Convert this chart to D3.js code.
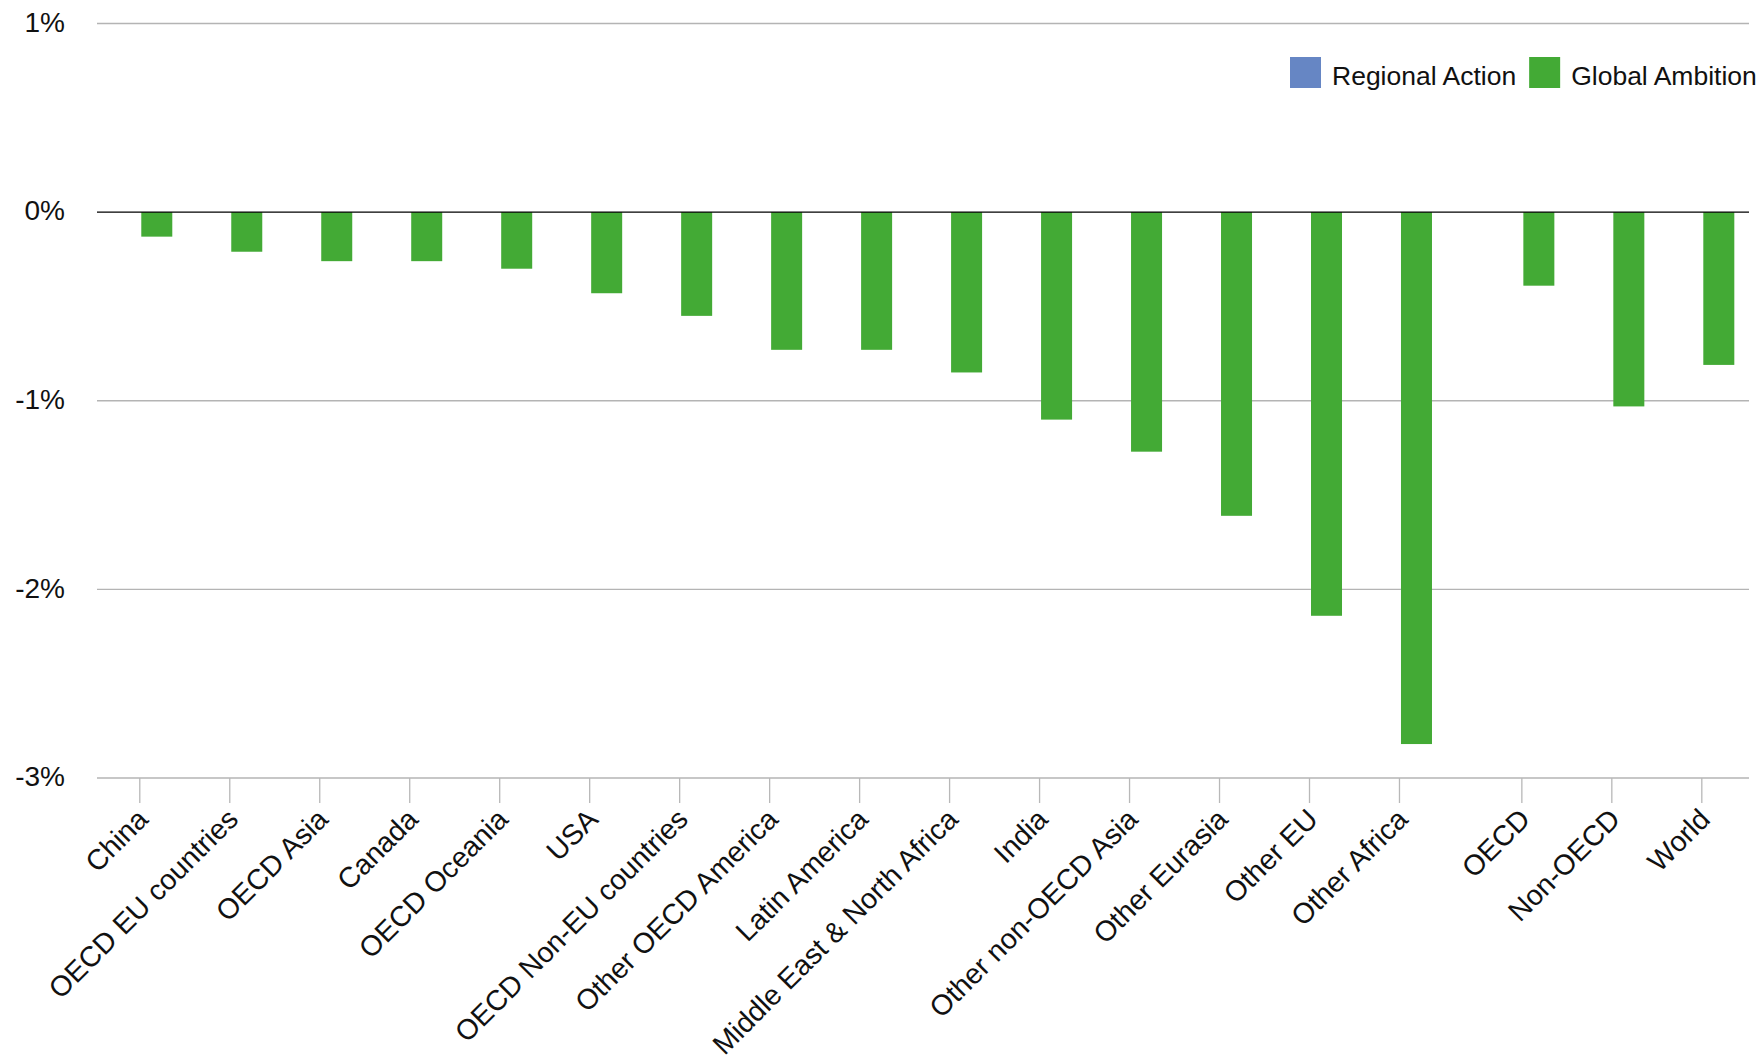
<!DOCTYPE html>
<head>
  <meta charset="utf-8">
  <script src="https://d3js.org/d3.v7.min.js"></script>
  <style>
    body { margin: 0; background: #fff; }
    svg { font-family: "Liberation Sans", Arial, sans-serif; }
    .grid line { stroke: #b4b4b4; stroke-width: 1.3; }
    .zero { stroke: #000; stroke-width: 1.4; }
    .x .tick line { stroke: #b8b8b8; stroke-width: 1.3; }
    .x path, .y path, .y line { display: none; }
    .y text { fill: #111; font-size: 28px; }
    .x text { fill: #111; font-size: 28.5px; }
    .legend text { fill: #111; font-size: 26.5px; }
  </style>
</head>
<body>
<script>

  var categories = ["China", "OECD EU countries", "OECD Asia", "Canada", "OECD Oceania", "USA",
    "OECD Non-EU countries", "Other OECD America", "Latin America", "Middle East & North Africa",
    "India", "Other non-OECD Asia", "Other Eurasia", "Other EU", "Other Africa",
    "OECD", "Non-OECD", "World"];
  var aggregates = ["OECD", "Non-OECD", "World"];

  var seriesNames = ["Regional Action", "Global Ambition"];
  var seriesColors = ["#6686c4", "#43aa35"];

  // no Regional Action bars are shown
  var regionalAction = [null, null, null, null, null, null, null, null, null,
    null, null, null, null, null, null, null, null, null];
  var globalAmbition = [-0.13, -0.21, -0.26, -0.26, -0.30, -0.43, -0.55, -0.73, -0.73,
    -0.85, -1.10, -1.27, -1.61, -2.14, -2.82, -0.39, -1.03, -0.81];

  var yTicks = [1, 0, -1, -2, -3];

  var width = 1764, height = 1061;
  var margin = { left: 97, right: 1749, top: 23.5, bottom: 778 };
  var groupGap = 0.36;

  var svg = d3.select("body").append("svg")
      .attr("width", width)
      .attr("height", height);

  // slot position of each category, the aggregate group sits a bit apart
  var slots = categories.map(function(c, i) {
    return i + (aggregates.indexOf(c) >= 0 ? groupGap : 0);
  });
  var slotScale = d3.scaleLinear()
      .domain([-0.47, d3.max(slots) + 0.53])
      .range([margin.left, margin.right]);

  var x = d3.scaleOrdinal()
      .domain(categories)
      .range(slots.map(function(s) { return slotScale(s); }));

  var inner = d3.scaleBand()
      .domain(seriesNames)
      .range([-33, 33])
      .paddingInner(0.114);

  var y = d3.scaleLinear()
      .domain([d3.min(yTicks), d3.max(yTicks)])
      .range([margin.bottom, margin.top]);

  // grid
  svg.append("g")
      .attr("class", "grid")
    .selectAll("line")
    .data(yTicks.filter(function(t) { return t !== 0; }))
    .enter().append("line")
      .attr("x1", margin.left)
      .attr("x2", margin.right)
      .attr("y1", function(d) { return y(d); })
      .attr("y2", function(d) { return y(d); });

  // y labels
  svg.append("g")
      .attr("class", "y axis")
      .attr("transform", "translate(" + margin.left + ",0)")
      .call(d3.axisLeft(y).tickValues(yTicks).tickSize(0).tickPadding(32)
        .tickFormat(function(d) { return d + "%"; }))
    .selectAll("text")
      .attr("dy", "0.28em");

  // x axis with slanted labels
  var xAxis = svg.append("g")
      .attr("class", "x axis")
      .attr("transform", "translate(0," + margin.bottom + ")")
      .call(d3.axisBottom(x).tickSize(25));

  xAxis.selectAll("text")
      .attr("x", 0)
      .attr("y", 0)
      .attr("dy", 0)
      .style("text-anchor", "end")
      .attr("transform", "translate(10,43) rotate(-45)");

  // bars
  var series = [regionalAction, globalAmbition];
  series.forEach(function(values, s) {
    var rows = categories.map(function(c, i) { return { cat: c, v: values[i] }; })
        .filter(function(d) { return d.v !== null; });
    svg.append("g").selectAll("rect")
        .data(rows)
      .enter().append("rect")
        .attr("fill", seriesColors[s])
        .attr("x", function(d) { return x(d.cat) + inner(seriesNames[s]); })
        .attr("width", inner.bandwidth())
        .attr("y", function(d) { return y(Math.max(0, d.v)); })
        .attr("height", function(d) { return Math.abs(y(d.v) - y(0)); });
  });

  // zero line
  svg.append("line")
      .attr("class", "zero")
      .attr("x1", margin.left)
      .attr("x2", margin.right)
      .attr("y1", y(0))
      .attr("y2", y(0));

  // legend
  var legend = svg.append("g").attr("class", "legend");
  var lx = 1290;
  seriesNames.forEach(function(name, i) {
    legend.append("rect")
        .attr("x", lx)
        .attr("y", 57)
        .attr("width", 31)
        .attr("height", 31)
        .attr("fill", seriesColors[i]);
    var t = legend.append("text")
        .attr("x", lx + 42)
        .attr("y", 85)
        .text(name);
    lx += 42 + t.node().getComputedTextLength() + 13;
  });

</script>
</body>
